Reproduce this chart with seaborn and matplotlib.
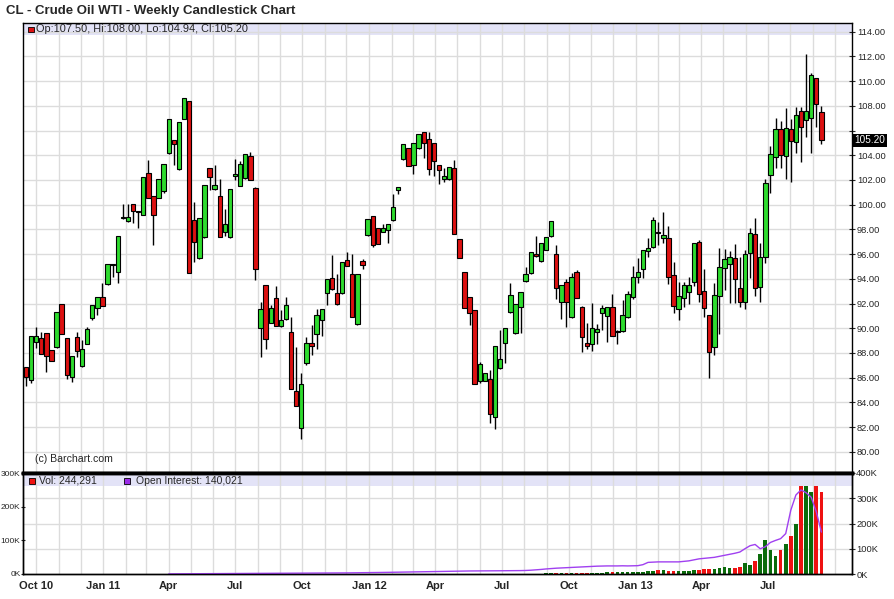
import numpy as np
import pandas as pd
import matplotlib
matplotlib.use("Agg")
import matplotlib.pyplot as plt
import matplotlib.dates as mdates
import matplotlib.ticker as mticker
from matplotlib.patches import Rectangle
import seaborn as sns

# weekly bars, first one dated 17 Sep 2010
week_start = "2010-09-17"

opens = [86.82, 85.80, 88.85, 89.23, 89.58, 88.20, 88.47, 91.93, 89.17, 86.04,
         89.31, 86.93, 88.71, 90.82, 91.63, 92.55, 93.54, 95.16, 94.57, 98.90,
         98.65, 100.02, 99.46, 99.20, 102.53, 100.67, 100.54, 101.10, 104.15, 105.23,
         102.86, 106.93, 108.39, 98.75, 95.65, 97.35, 102.96, 101.24, 100.70, 97.76,
         97.35, 102.30, 101.53, 102.18, 103.91, 101.34, 89.98, 93.46, 90.44, 92.41,
         90.17, 90.74, 89.66, 84.88, 81.94, 87.15, 88.77, 89.50, 90.66, 92.82,
         94.03, 92.82, 92.82, 95.49, 94.36, 90.31, 95.41, 97.51, 99.05, 98.08,
         97.78, 97.92, 98.73, 101.16, 103.67, 104.56, 103.18, 104.56, 105.85, 105.29,
         104.96, 103.18, 102.10, 102.05, 102.94, 97.19, 94.52, 92.49, 91.47, 85.75,
         85.75, 85.85, 82.83, 86.74, 88.77, 91.28, 89.58, 91.68, 93.79, 94.44,
         96.03, 95.41, 96.30, 97.43, 96.00, 92.09, 93.76, 90.93, 94.52, 91.74,
         88.82, 88.71, 89.66, 91.20, 90.98, 91.68, 89.66, 89.74, 90.87, 92.49,
         94.17, 94.76, 96.27, 96.54, 97.78, 97.27, 97.27, 94.28, 91.52, 92.41,
         92.90, 93.76, 97.00, 92.98, 91.04, 88.45, 92.63, 94.89, 95.17, 95.65,
         93.22, 92.09, 96.06, 97.60, 93.30, 95.73, 102.37, 103.88, 106.10, 103.94,
         106.10, 105.07, 107.55, 106.85, 106.99, 110.23, 107.50]

highs = [86.90, 89.40, 90.09, 89.66, 89.60, 88.20, 91.30, 91.95, 89.20, 87.72,
         89.66, 89.06, 90.09, 91.90, 92.55, 93.65, 95.16, 95.20, 97.43, 100.02,
         100.02, 100.05, 99.50, 102.26, 103.61, 100.70, 102.10, 103.26, 106.90, 105.25,
         106.69, 108.61, 108.40, 100.21, 98.92, 101.56, 103.00, 103.21, 102.07, 99.64,
         101.26, 103.70, 103.53, 104.07, 104.26, 101.40, 92.11, 93.50, 91.87, 93.38,
         91.47, 92.52, 90.90, 88.50, 86.39, 89.25, 90.25, 91.52, 91.55, 94.00,
         95.92, 94.38, 95.33, 96.14, 96.00, 94.36, 95.57, 98.81, 99.10, 98.10,
         98.43, 98.40, 100.86, 101.40, 104.88, 104.60, 104.96, 105.69, 105.90, 105.91,
         105.00, 103.20, 102.94, 103.02, 103.61, 97.20, 94.55, 92.50, 91.50, 87.28,
         86.39, 86.61, 88.53, 89.85, 89.98, 93.68, 91.93, 92.92, 94.98, 96.14,
         97.46, 96.92, 97.35, 98.65, 96.73, 93.52, 93.98, 94.44, 94.73, 91.80,
         90.39, 92.01, 90.31, 91.85, 91.74, 92.74, 89.85, 92.28, 93.03, 95.03,
         95.65, 96.30, 97.30, 99.02, 98.59, 99.40, 98.27, 95.36, 93.76, 93.76,
         94.17, 96.87, 97.14, 94.76, 91.10, 93.65, 96.49, 96.43, 96.24, 96.81,
         95.73, 96.33, 98.08, 98.89, 96.92, 102.05, 104.75, 106.99, 106.77, 107.80,
         106.93, 107.88, 107.88, 112.20, 110.63, 110.25, 108.00]

lows = [85.30, 85.60, 88.36, 87.88, 86.47, 87.34, 88.40, 89.50, 85.85, 85.66,
        87.63, 86.90, 88.70, 90.70, 91.09, 91.76, 93.50, 94.17, 93.63, 98.85,
        98.60, 98.54, 98.13, 99.15, 100.51, 96.70, 100.50, 100.95, 104.10, 103.21,
        102.80, 106.90, 94.44, 95.38, 95.60, 97.30, 101.18, 101.20, 97.35, 97.49,
        97.30, 102.00, 101.50, 102.10, 101.97, 93.87, 87.63, 88.28, 90.40, 90.17,
        90.10, 90.70, 85.04, 83.69, 81.00, 87.00, 87.80, 88.28, 89.36, 91.87,
        93.10, 91.90, 92.80, 95.00, 90.90, 90.30, 94.76, 97.50, 96.60, 96.78,
        97.75, 96.92, 98.70, 100.89, 103.60, 103.13, 102.50, 104.50, 103.80, 102.42,
        102.34, 101.64, 101.86, 102.00, 97.62, 95.65, 91.60, 90.25, 85.48, 85.53,
        85.70, 82.29, 81.88, 86.70, 87.15, 91.20, 89.50, 89.63, 93.75, 94.40,
        95.80, 95.40, 96.30, 97.40, 92.33, 90.71, 90.12, 90.79, 92.47, 88.09,
        88.28, 88.17, 88.71, 89.85, 88.90, 89.39, 88.69, 89.70, 90.80, 92.40,
        93.63, 94.09, 95.79, 96.50, 96.73, 96.87, 93.57, 91.25, 90.63, 91.74,
        92.00, 93.41, 92.14, 90.87, 85.99, 87.83, 89.52, 93.09, 92.01, 92.01,
        91.74, 91.52, 94.03, 92.60, 92.14, 95.30, 100.91, 102.94, 102.99, 102.05,
        101.81, 104.21, 103.48, 105.50, 104.15, 106.26, 104.94]

closes = [86.02, 89.39, 89.33, 87.88, 87.72, 87.34, 91.28, 89.50, 86.18, 87.72,
          88.12, 88.28, 89.90, 91.90, 92.55, 91.76, 95.16, 95.10, 97.43, 98.95,
          99.00, 99.46, 99.44, 102.26, 100.51, 99.13, 102.10, 103.26, 106.90, 104.91,
          106.69, 108.61, 94.44, 96.95, 98.92, 101.56, 102.21, 101.56, 97.35, 98.40,
          101.26, 102.45, 103.26, 104.07, 101.97, 94.81, 91.52, 89.09, 91.63, 90.17,
          90.66, 91.85, 85.04, 83.69, 85.48, 88.77, 88.53, 91.04, 91.52, 93.95,
          93.14, 91.93, 95.33, 95.03, 90.93, 94.36, 95.08, 98.81, 96.73, 96.78,
          98.08, 98.40, 99.81, 101.40, 104.88, 103.13, 104.96, 105.69, 104.96, 102.86,
          103.50, 102.78, 102.29, 103.02, 97.62, 95.65, 91.60, 91.20, 85.48, 87.07,
          86.39, 83.05, 88.53, 87.47, 89.98, 92.65, 91.93, 92.92, 94.38, 96.14,
          95.84, 96.92, 97.35, 98.65, 93.28, 93.52, 92.09, 94.17, 92.47, 89.25,
          88.58, 89.98, 89.90, 91.60, 91.74, 89.39, 89.80, 91.04, 92.74, 94.11,
          94.52, 96.30, 96.46, 98.73, 97.74, 97.54, 94.17, 91.82, 92.63, 93.52,
          93.46, 96.87, 92.74, 91.60, 88.09, 92.66, 94.92, 95.57, 95.79, 93.95,
          92.09, 95.97, 97.73, 93.22, 95.73, 101.72, 104.07, 106.10, 103.99, 106.18,
          105.15, 107.23, 106.31, 107.61, 110.50, 108.12, 105.20]

# volume (thousands), only traded from bar 102 on
vol_first = 102
vol_k = [2, 2, 3, 2, 3, 2, 3, 3, 3, 3, 4, 4, 5, 5, 5, 5, 6, 6, 7, 7,
         8, 8, 11, 11, 8, 8, 8, 8, 8, 11, 12, 14, 14, 14, 19, 22, 19, 19, 22, 34,
         28, 38, 58, 100, 70, 52, 70, 88, 112, 148, 262, 260, 244, 260, 244]

# open interest (thousands), from bar 28 on
oi_first = 28
oi_k = [0.5, 0.6, 0.7, 0.8, 0.9, 1.0, 1.1, 1.2, 1.3, 1.4, 1.5, 1.6,
        1.7, 1.8, 1.9, 2.0, 2.1, 2.2, 2.3, 2.4, 2.5, 2.6, 2.7, 2.8,
        2.9, 3.0, 3.1, 3.2, 3.3, 3.4, 3.5, 3.6, 3.8, 4.0, 4.2, 4.4,
        4.6, 4.8, 5.0, 5.3, 5.6, 5.9, 6.2, 6.5, 6.8, 7.1, 7.4, 7.7, 8.0,
        8.4, 8.8, 9.2, 9.6, 10.0, 10.4, 10.8, 11.2, 11.5, 11.8, 12.0, 12.2, 12.4,
        12.5, 12.6, 12.7, 12.8, 12.9, 13.0, 13.2, 13.5, 14.0, 15.0, 16.5, 18.0, 20.0,
        21.5, 23.0, 24.0, 25.0, 26.0, 27.0, 28.0, 29.0, 30.0, 31.0, 31.5, 32.0, 32.0,
        32.0, 32.5, 32.0, 32.5, 33.0, 37.0,
        46, 47, 48, 48, 48, 48, 48, 50, 52, 56, 60, 62, 64, 66, 70, 74, 78, 82, 87,
        100, 112, 117, 100, 108, 125, 133, 140, 160, 253, 313, 333, 322, 304, 246, 166]

title = "CL - Crude Oil WTI - Weekly Candlestick Chart"
vol_label = "Vol: 244,291"
oi_label = "Open Interest: 140,021"

GREEN = "#2EDB2E"
RED = "#DD1111"
VGREEN = "#0B6B0B"
VRED = "#EE1111"
LAV = "#E3E3F7"
GRID = "#DCDCDC"
PURPLE = "#A040F0"

df = pd.DataFrame({"date": pd.date_range(week_start, periods=len(opens), freq="7D"),
                   "open": opens, "high": highs, "low": lows, "close": closes})
df["x"] = mdates.date2num(df["date"])
df["up"] = df["close"] >= df["open"]

vol = df.iloc[vol_first:vol_first + len(vol_k)].copy()
vol["vol"] = np.array(vol_k) * 1000
oi = df.iloc[oi_first:oi_first + len(oi_k)].copy()
oi["oi"] = np.array(oi_k) * 1000

sns.set_style("white")
plt.rcParams["font.family"] = ["Liberation Sans", "DejaVu Sans"]

W, H = 895, 599
fig = plt.figure(figsize=(W / 100, H / 100), dpi=100)

L, R = 23.3, 852
ax = fig.add_axes([L / W, 1 - 473 / H, (R - L) / W, (473 - 22.7) / H])
axv = fig.add_axes([L / W, 1 - 574 / H, (R - L) / W, (574 - 473) / H])

xmin = mdates.date2num(pd.Timestamp("2010-09-13 08:00"))
xmax = mdates.date2num(pd.Timestamp("2013-10-25"))
quarters = mdates.date2num(pd.date_range("2010-10-01", "2013-07-01", freq="QS"))
last = df.iloc[-1]

# ---- price panel ----
ax.set_axisbelow(True)
ax.vlines(df["x"], df["low"], df["high"], color="black", lw=1, zorder=2)
body = (df["close"] - df["open"]).abs().clip(lower=0.07)
ax.bar(df["x"], body, bottom=np.minimum(df["open"], df["close"]), width=6,
       color=np.where(df["up"], GREEN, RED), edgecolor="black", linewidth=0.8, zorder=3)

ax.set_xlim(xmin, xmax)
ax.set_ylim(78.28, 114.73)
ax.yaxis.tick_right()
ax.set_yticks(np.arange(80, 115, 2))


def pfmt(v, pos):
    # the last-price box hides the label next to it
    if abs(v - last["close"]) < 1.0:
        return ""
    return f"{v:.2f}"


ax.yaxis.set_major_formatter(mticker.FuncFormatter(pfmt))
ax.tick_params(axis="y", labelsize=6.7, direction="inout", length=5, width=0.8, pad=1)
ax.xaxis.set_major_locator(mdates.MonthLocator())
ax.tick_params(axis="x", length=0, labelbottom=False)
ax.grid(True, color=GRID, lw=1)
ax.add_patch(Rectangle((0, 1 - 12.3 / 450.3), 1, 12.3 / 450.3, transform=ax.transAxes,
                       facecolor=LAV, edgecolor="none", zorder=0.1))
for s in ["top", "left", "right"]:
    ax.spines[s].set_color("black")
    ax.spines[s].set_linewidth(1)
ax.spines["bottom"].set_color("black")
ax.spines["bottom"].set_linewidth(2.5)

ax.text(1.003, last["close"], f"{last['close']:.2f}", transform=ax.get_yaxis_transform(),
        ha="left", va="center", fontsize=7.2, color="white",
        bbox=dict(boxstyle="square,pad=0.12", facecolor="black", edgecolor="none"))
ax.text(12 / (R - L), 13.5 / 450.3, "(c) Barchart.com", transform=ax.transAxes,
        fontsize=7.6, va="center")

# ---- volume / open interest panel ----
axv.set_axisbelow(True)
axv.bar(vol["x"], vol["vol"], width=5, color=np.where(vol["up"], VGREEN, VRED),
        linewidth=0, zorder=2)
axv.set_xlim(xmin, xmax)
axv.set_ylim(0, 300000)
axv.set_yticks([0, 100000, 200000, 300000])
axv.set_yticklabels(["0K", "100K", "200K", "300K"])
axv.set_yticks([75000, 150000, 225000], minor=True)
axv.tick_params(axis="y", which="major", labelsize=6, direction="inout", length=3, pad=0.5)
axv.tick_params(axis="y", which="minor", length=0)
axv.xaxis.set_major_locator(mticker.FixedLocator(quarters))
axv.xaxis.set_minor_locator(mdates.MonthLocator())


def qfmt(v, pos):
    d = mdates.num2date(v)
    if d.month == 1 or pos == 0:
        return d.strftime("%b %y")
    return d.strftime("%b")


axv.xaxis.set_major_formatter(mticker.FuncFormatter(qfmt))
axv.tick_params(axis="x", which="major", labelsize=8, length=4, direction="out", pad=1)
axv.tick_params(axis="x", which="minor", length=0)
for lab in axv.get_xticklabels():
    lab.set_fontweight("bold")
axv.grid(True, axis="x", which="both", color=GRID, lw=1)
axv.grid(True, axis="y", which="minor", color=GRID, lw=1)
axv.add_patch(Rectangle((0, 1 - 12.7 / 101), 1, 12.7 / 101, transform=axv.transAxes,
                        facecolor=LAV, edgecolor="none", zorder=0.1))

ax2 = axv.twinx()
sns.lineplot(x=oi["x"], y=oi["oi"], ax=ax2, color=PURPLE, linewidth=1)
ax2.set_ylim(0, 400000)
ax2.set_yticks(np.arange(0, 400001, 100000))
ax2.set_yticklabels(["0K", "100K", "200K", "300K", "400K"])
ax2.tick_params(axis="y", labelsize=6.7, direction="inout", length=4, pad=1)
ax2.set_xlabel("")
ax2.set_ylabel("")
axv.set_xlabel("")
for a in (axv, ax2):
    for s in ["left", "right", "bottom"]:
        a.spines[s].set_color("black")
        a.spines[s].set_linewidth(1)
    a.spines["top"].set_color("black")
    a.spines["top"].set_linewidth(2.5)

# ---- titles and legends ----
fig.text(6 / W, 1 - 11 / H, title, fontsize=9.5, fontweight="bold", va="center")
fig.add_artist(Rectangle((28 / W, 1 - 32 / H), 5.5 / W, 5.5 / H, transform=fig.transFigure,
                         facecolor=RED, edgecolor="black", lw=0.6))
fig.text(36 / W, 1 - 28.8 / H,
         f"Op:{last['open']:.2f}, Hi:{last['high']:.2f}, Lo:{last['low']:.2f}, Cl:{last['close']:.2f}",
         fontsize=7.9, va="center")
fig.add_artist(Rectangle((29 / W, 1 - 484.3 / H), 5.5 / W, 6 / H, transform=fig.transFigure,
                         facecolor=VRED, edgecolor="black", lw=0.6))
fig.text(39 / W, 1 - 480.8 / H, vol_label, fontsize=7.5, va="center")
fig.add_artist(Rectangle((124.5 / W, 1 - 484.3 / H), 5.5 / W, 6 / H, transform=fig.transFigure,
                         facecolor="#9A2BE8", edgecolor="black", lw=0.6))
fig.text(136 / W, 1 - 480.8 / H, oi_label, fontsize=7.5, va="center")

fig.savefig("out.png", dpi=100, facecolor="white")
